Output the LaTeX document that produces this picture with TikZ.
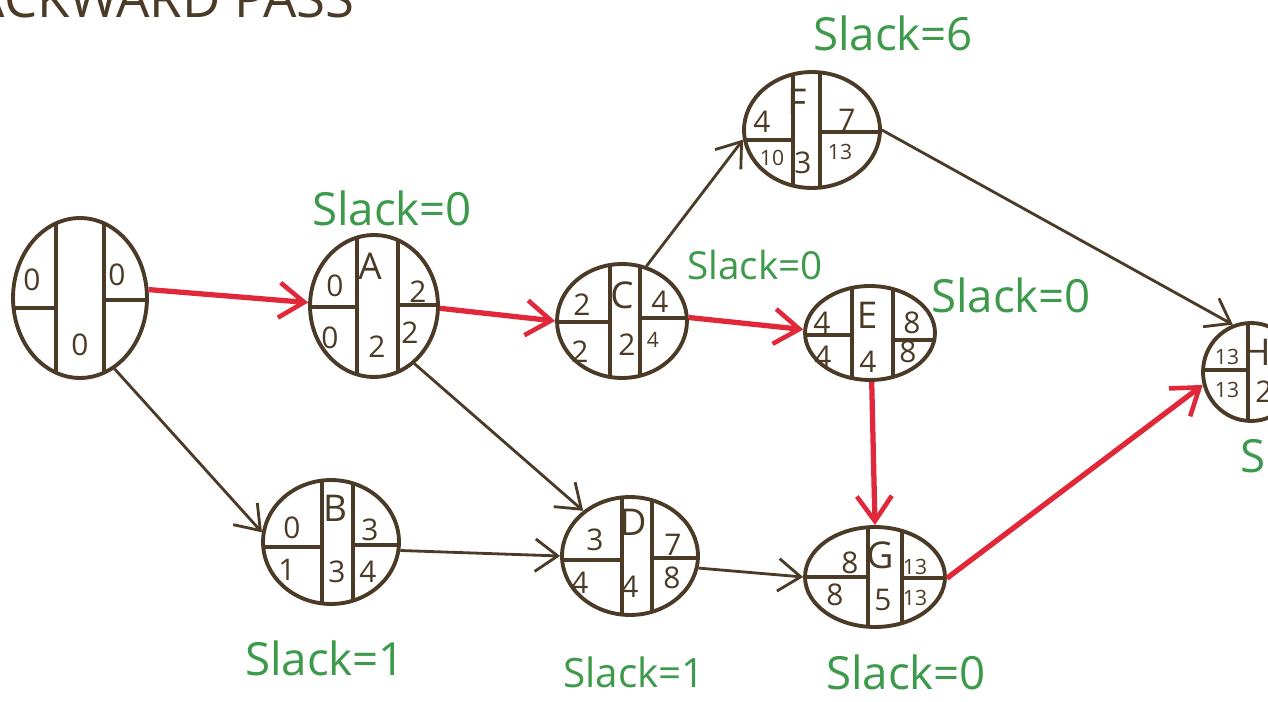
\documentclass[tikz,border=0pt]{standalone}
\usepackage{fontspec}
\setsansfont{Open Sans}
\usetikzlibrary{shapes.geometric,arrows.meta,calc}
\definecolor{ink}{HTML}{4A3A26}
\definecolor{crit}{HTML}{E0283A}
\definecolor{slackgreen}{HTML}{3C9A4A}

\tikzset{
  oval/.style 2 args={ellipse, draw=ink, line width=2.2pt,
    minimum width=#1*0.04cm, minimum height=#2*0.04cm, inner sep=0pt},
  divider/.style={draw=ink, line width=2.2pt},
  num/.style={text=ink, inner sep=0pt, font=\sffamily\fontsize{17}{18}\selectfont},
  smallnum/.style={text=ink, inner sep=0pt, font=\sffamily\fontsize{12}{13}\selectfont},
  tag/.style={text=ink, inner sep=0pt, font=\sffamily\fontsize{21}{22}\selectfont},
  slack/.style={text=slackgreen, inner sep=0pt, font=\sffamily\fontsize{26}{28}\selectfont},
  title/.style={text=ink, inner sep=0pt, font=\sffamily\fontsize{30}{32}\selectfont},
  arr/.style={draw=ink, line width=1.6pt,
    -{Straight Barb[length=4.5mm,width=6.5mm,line width=1.6pt]}},
  critarr/.style={draw=crit, line width=3pt,
    -{Straight Barb[length=5mm,width=7mm,line width=2.6pt]}},
}

% cells of an activity oval: node, x radius, y radius,
% left and right vertical offsets, left and right horizontal offsets
\newcommand\splitoval[7]{%
  \begin{scope}
    \clip (#1.center) ellipse [x radius=#2, y radius=#3];
    \draw[divider] ($(#1.center)+(#4,-#3)$) -- ($(#1.center)+(#4,#3)$);
    \draw[divider] ($(#1.center)+(#5,-#3)$) -- ($(#1.center)+(#5,#3)$);
    \draw[divider] ($(#1.center)+(-#2,#6)$) -- ($(#1.center)+(#4,#6)$);
    \draw[divider] ($(#1.center)+(#5,#7)$) -- ($(#1.center)+(#2,#7)$);
  \end{scope}}

\begin{document}
\begin{tikzpicture}[x=0.02cm, y=-0.02cm]
  \useasboundingbox (0,0) rectangle (1268,702);
  \fill[white] (0,0) rectangle (1268,702);
  \clip (0,0) rectangle (1268,702);

  \node[title, anchor=south east] (ttl) at (355,18) {BACKWARD PASS};

  % activity ovals
  \node[oval={67}{80}] (S) at (80,298) {};
  \node[oval={64}{71}] (A) at (374,306) {};
  \node[oval={68}{62}] (B) at (331,542) {};
  \node[oval={65}{57}] (C) at (622,321) {};
  \node[oval={68}{59}] (D) at (630,556) {};
  \node[oval={65}{47}] (E) at (870,333) {};
  \node[oval={68}{58}] (F) at (812,130) {};
  \node[oval={70}{50}] (G) at (875,577) {};
  \node[oval={48}{49}] (H) at (1251,372) {};

  \splitoval{S}{67}{80}{-24}{24}{10}{2}
  \splitoval{A}{64}{71}{-17}{24}{1}{-1}
  \splitoval{B}{68}{62}{-9}{22}{5}{3}
  \splitoval{C}{65}{57}{-12}{18}{1}{-3}
  \splitoval{D}{68}{59}{-8}{22}{4}{2}
  \splitoval{E}{65}{47}{-18}{23}{2}{7}
  \splitoval{F}{68}{58}{-19}{8}{10}{2}
  \splitoval{G}{70}{50}{-7}{27}{0}{1}
  \splitoval{H}{48}{49}{-3}{30}{-2}{-2}

  % start
  \node[num] (S1) at (32,280) {0};
  \node[num] (S2) at (117,275) {0};
  \node[num] (S3) at (80,345) {0};
  % A
  \node[tag] (At) at (370,266) {A};
  \node[num] (A1) at (335,286) {0};
  \node[num] (A2) at (418,292) {2};
  \node[num] (A3) at (330,338) {0};
  \node[num] (A4) at (377,347) {2};
  \node[num] (A5) at (410,333) {2};
  % B
  \node[tag] (Bt) at (335,508) {B};
  \node[num] (B1) at (292,528) {0};
  \node[num] (B2) at (370,530) {3};
  \node[num] (B3) at (287,570) {1};
  \node[num] (B4) at (337,572) {3};
  \node[num] (B5) at (368,572) {4};
  % C
  \node[tag] (Ct) at (622,295) {C};
  \node[num] (C1) at (582,305) {2};
  \node[num] (C2) at (660,302) {4};
  \node[num] (C3) at (580,352) {2};
  \node[num] (C4) at (627,345) {2};
  \node[smallnum] (C5) at (653,340) {4};
  % D
  \node[tag] (Dt) at (633,522) {D};
  \node[num] (D1) at (595,540) {3};
  \node[num] (D2) at (673,545) {7};
  \node[num] (D3) at (580,583) {4};
  \node[num] (D4) at (630,587) {4};
  \node[num] (D5) at (672,578) {8};
  % E
  \node[tag] (Et) at (867,315) {E};
  \node[num] (E1) at (822,323) {4};
  \node[num] (E2) at (912,323) {8};
  \node[num] (E3) at (823,357) {4};
  \node[num] (E4) at (868,362) {4};
  \node[num] (E5) at (908,352) {8};
  % F
  \node[tag] (Ft) at (797,102) {F};
  \node[num] (F1) at (762,122) {4};
  \node[num] (F2) at (847,120) {7};
  \node[smallnum] (F3) at (772,158) {10};
  \node[num] (F4) at (803,163) {3};
  \node[smallnum] (F5) at (840,152) {13};
  % G
  \node[tag] (Gt) at (880,555) {G};
  \node[num] (G1) at (850,563) {8};
  \node[smallnum] (G2) at (915,567) {13};
  \node[num] (G3) at (835,595) {8};
  \node[num] (G4) at (883,600) {5};
  \node[smallnum] (G5) at (915,598) {13};
  % H
  \node[tag] (Ht) at (1257,352) {H};
  \node[smallnum] (H1) at (1227,357) {13};
  \node[smallnum] (H2) at (1227,390) {13};
  \node[num] (H3) at (1264,392) {2};

  % dependencies
  \draw[critarr] (S.7) -- (A.177);
  \draw[arr] (S.-64) -- (B.172);
  \draw[critarr] (A.-2) -- (C.180);
  \draw[arr] (A.-55) -- (D.136);
  \draw[arr] (C.66) -- (F.-172);
  \draw[critarr] (C.3) -- (E.177);
  \draw[arr] (B.-7) -- (D.180);
  \draw[arr] (F.0) -- (H.111);
  \draw[arr] (D.-10) -- (G.180);
  \draw[critarr] (E.-88) -- (G.90);
  \draw[critarr] (G.-1) -- (H.-165);

  % slack of each activity
  \node[slack] (sF) at (893,33) {Slack=6};
  \node[slack] (sA) at (392,208) {Slack=0};
  \node[slack, font=\sffamily\fontsize{22}{24}\selectfont] (sC) at (755,265) {Slack=0};
  \node[slack] (sE) at (1011,295) {Slack=0};
  \node[slack] (sB) at (325,658) {Slack=1};
  \node[slack, font=\sffamily\fontsize{23}{25}\selectfont] (sD) at (634,672) {Slack=1};
  \node[slack] (sG) at (906,672) {Slack=0};
  \node[slack, anchor=west] (sH) at (1240,455) {Slack=0};
\end{tikzpicture}
\end{document}
